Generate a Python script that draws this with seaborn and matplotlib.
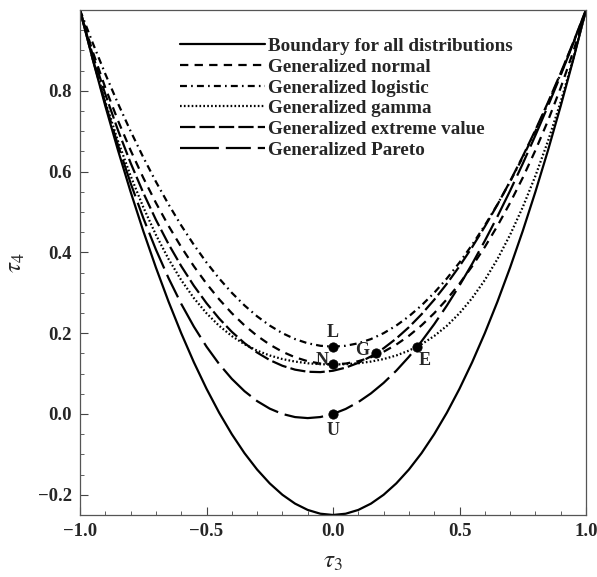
import numpy as np
import pandas as pd
import matplotlib
matplotlib.use("Agg")
import matplotlib.pyplot as plt
import seaborn as sns
from matplotlib.ticker import MultipleLocator

sns.set_theme(style="white")
plt.rcParams['font.family'] = ['Liberation Serif', 'DejaVu Serif']
plt.rcParams['mathtext.fontset'] = 'stix'
plt.rcParams['lines.scale_dashes'] = False

# tau3 grid read along the horizontal axis
tau3 = [-1.00, -0.95, -0.90, -0.85, -0.80, -0.75, -0.70, -0.65, -0.60, -0.55,
        -0.50, -0.45, -0.40, -0.35, -0.30, -0.25, -0.20, -0.15, -0.10, -0.05,
        0.00, 0.05, 0.10, 0.15, 0.20, 0.25, 0.30, 0.35, 0.40, 0.45,
        0.50, 0.55, 0.60, 0.65, 0.70, 0.75, 0.80, 0.85, 0.90, 0.95, 1.00]

boundary = [1.0, 0.8781, 0.7625, 0.6531, 0.55, 0.4531, 0.3625, 0.2781, 0.2, 0.1281,
            0.0625, 0.0031, -0.05, -0.0969, -0.1375, -0.1719, -0.2, -0.2219, -0.2375, -0.2469,
            -0.25, -0.2469, -0.2375, -0.2219, -0.2, -0.1719, -0.1375, -0.0969, -0.05, 0.0031,
            0.0625, 0.1281, 0.2, 0.2781, 0.3625, 0.4531, 0.55, 0.6531, 0.7625, 0.8781, 1.0]

gen_normal = [0.9981, 0.8976, 0.8077, 0.7265, 0.6526, 0.5848, 0.5227, 0.4656, 0.4133, 0.3657,
              0.3226, 0.2839, 0.2495, 0.2194, 0.1935, 0.1717, 0.1540, 0.1403, 0.1306, 0.1248,
              0.1228, 0.1248, 0.1306, 0.1403, 0.1540, 0.1717, 0.1935, 0.2194, 0.2495, 0.2839,
              0.3226, 0.3657, 0.4133, 0.4656, 0.5227, 0.5848, 0.6526, 0.7265, 0.8077, 0.8976, 0.9981]

gen_logistic = [1.0, 0.9188, 0.8417, 0.7688, 0.7, 0.6354, 0.575, 0.5188, 0.4667, 0.4188,
                0.375, 0.3354, 0.3, 0.2688, 0.2417, 0.2188, 0.2, 0.1854, 0.175, 0.1688,
                0.1667, 0.1688, 0.175, 0.1854, 0.2, 0.2188, 0.2417, 0.2688, 0.3, 0.3354,
                0.375, 0.4188, 0.4667, 0.5188, 0.575, 0.6354, 0.7, 0.7688, 0.8417, 0.9188, 1.0]

gen_gamma = [1.0006, 0.8806, 0.7729, 0.6761, 0.5894, 0.5120, 0.4435, 0.3835, 0.3314, 0.2869,
             0.2494, 0.2182, 0.1929, 0.1727, 0.1568, 0.1448, 0.1359, 0.1297, 0.1255, 0.1232,
             0.1224, 0.1232, 0.1255, 0.1297, 0.1359, 0.1448, 0.1568, 0.1727, 0.1929, 0.2182,
             0.2494, 0.2869, 0.3314, 0.3835, 0.4435, 0.5120, 0.5894, 0.6761, 0.7729, 0.8806, 1.0006]

gen_extreme = [0.9966, 0.8893, 0.7916, 0.7025, 0.6214, 0.5477, 0.4808, 0.4204, 0.3661, 0.3174,
               0.2743, 0.2363, 0.2034, 0.1754, 0.1521, 0.1334, 0.1193, 0.1097, 0.1045, 0.1036,
               0.1070, 0.1147, 0.1265, 0.1425, 0.1626, 0.1867, 0.2148, 0.2468, 0.2827, 0.3224,
               0.3658, 0.4130, 0.4638, 0.5182, 0.5762, 0.6378, 0.7029, 0.7718, 0.8443, 0.9206, 1.0008]

gen_pareto = [1.0, 0.8796, 0.7683, 0.6657, 0.5714, 0.4853, 0.4070, 0.3362, 0.2727, 0.2163,
              0.1667, 0.1236, 0.0870, 0.0565, 0.0319, 0.0132, 0.0, -0.0077, -0.0102, -0.0076,
              0.0, 0.0124, 0.0294, 0.0510, 0.0769, 0.1071, 0.1415, 0.1799, 0.2222, 0.2683,
              0.3182, 0.3716, 0.4286, 0.4889, 0.5526, 0.6196, 0.6897, 0.7628, 0.8390, 0.9181, 1.0]

# special distributions
pt_names = ["L", "N", "G", "E", "U"]
pt_tau3 = [0.0, 0.0, 0.1699, 0.3333, 0.0]
pt_tau4 = [0.1667, 0.1226, 0.1504, 0.1667, 0.0]

curves = [
    ("Boundary for all distributions", boundary, '-'),
    ("Generalized normal", gen_normal, (0, (6, 4.5))),
    ("Generalized logistic", gen_logistic, (0, (5, 3, 1.2, 3))),
    ("Generalized gamma", gen_gamma, (0, (1.2, 1.6))),
    ("Generalized extreme value", gen_extreme, (0, (11, 3))),
    ("Generalized Pareto", gen_pareto, (0, (28, 5, 18, 5))),
]

fig = plt.figure(figsize=(5.97, 5.77), dpi=100)
ax = fig.add_axes([0.134, 0.1075, 0.8476, 0.8752])

for name, vals, ls in curves:
    df = pd.DataFrame({"tau3": tau3, "tau4": vals})
    sns.lineplot(data=df, x="tau3", y="tau4", ax=ax, color="black", lw=1.6,
                 linestyle=ls, label=name, sort=False)

pts = pd.DataFrame({"tau3": pt_tau3, "tau4": pt_tau4, "name": pt_names})
sns.scatterplot(data=pts, x="tau3", y="tau4", ax=ax, color="black", s=45,
                edgecolor="black", zorder=5, legend=False)

offsets = {"L": (0, 10), "N": (-8, 3), "G": (-10, 2), "E": (5, -10), "U": (0, -12)}
for n, x, y in zip(pt_names, pt_tau3, pt_tau4):
    ax.annotate(n, (x, y), xytext=offsets[n], textcoords="offset points",
                ha="center", va="center", fontsize=13, fontweight="bold")

ax.set_xlim(-1, 1)
ax.set_ylim(-0.25, 1.0)
ax.xaxis.set_major_locator(MultipleLocator(0.5))
ax.xaxis.set_minor_locator(MultipleLocator(0.1))
ax.yaxis.set_major_locator(MultipleLocator(0.2))
ax.yaxis.set_minor_locator(MultipleLocator(0.05))
ax.set_yticks([-0.2, 0.0, 0.2, 0.4, 0.6, 0.8])
ax.tick_params(axis="both", which="both", direction="in", bottom=True, left=True,
               top=False, right=False, labelsize=13.5, pad=6)
ax.tick_params(which="major", length=6, width=0.8, color="#444444")
ax.tick_params(which="minor", length=3, width=0.6, color="#444444")
ax.xaxis.set_major_formatter(plt.FuncFormatter(lambda v, p: f"{v:.1f}".replace("-", "\u2212")))
ax.yaxis.set_major_formatter(plt.FuncFormatter(lambda v, p: f"{v:.1f}".replace("-", "\u2212")))
for lab in ax.get_xticklabels() + ax.get_yticklabels():
    lab.set_fontweight("bold")

for sp in ax.spines.values():
    sp.set_color("#555555")
    sp.set_linewidth(0.9)

ax.set_xlabel(r"$\tau_3$", fontsize=18, labelpad=8)
ax.set_ylabel(r"$\tau_4$", fontsize=18, labelpad=8)

leg = ax.legend(loc="upper left", bbox_to_anchor=(0.198, 0.945), frameon=False,
                borderpad=0, borderaxespad=0,
                handlelength=4.4, handletextpad=0.18, labelspacing=0.17,
                prop={"family": "Liberation Serif", "weight": "bold", "size": 13.8})

fig.savefig("out.png", dpi=100)
